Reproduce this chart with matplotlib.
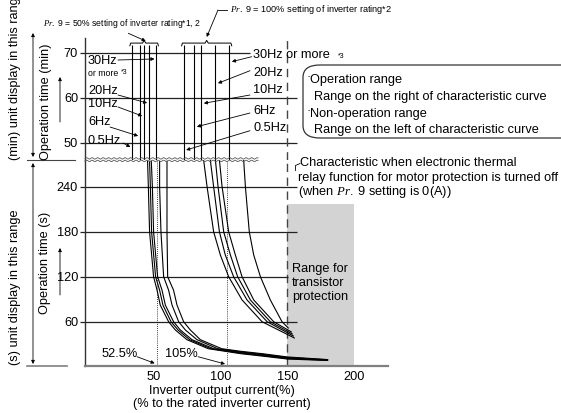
import numpy as np
import matplotlib
matplotlib.use('Agg')
import matplotlib.pyplot as plt
from matplotlib.patches import FancyBboxPatch, FancyArrowPatch
from matplotlib.lines import Line2D

plt.rcParams['font.family'] = ['Liberation Sans', 'DejaVu Sans']
plt.rcParams['mathtext.fontset'] = 'custom'
plt.rcParams['mathtext.it'] = 'Liberation Serif:italic'
plt.rcParams['mathtext.rm'] = 'Liberation Sans'

# ---- data ----
hz_names = ['0.5Hz', '6Hz', '10Hz', '20Hz', '30Hz']
min_ticks = [50, 60, 70]
sec_ticks = [60, 120, 180, 240]
x_ticks = [50, 100, 150, 200]

# minute range: curves are vertical there (current %)
upper_50 = [34.0, 39.8, 42.8, 46.5, 52.0]
upper_100 = [72.6, 80.6, 85.8, 96.3, 106.7]

# second range, Pr.9 = 50 % group
t_50 = [274, 240, 180, 120, 102, 82, 60, 49, 36, 24]
cur_50 = [
    [45.7, 46.3, 47.2, 50.2, 52.8, 55.2, 61.4, 66.4, 75.1, 91],
    [47.2, 47.8, 48.7, 51.7, 54.7, 57.2, 63.2, 68.4, 77.1, 93],
    [48.5, 49.3, 50.2, 53.2, 56.5, 59.0, 65.1, 70.1, 78.9, 95],
    [54.7, 54.7, 55.7, 57.7, 61.4, 64.0, 68.9, 73.9, 82.6, 98],
    [60.2, 60.2, 60.2, 60.7, 65.1, 67.7, 72.6, 77.6, 85.1, 101],
]
tail_cur_50 = [115, 132, 150, 180]
tail_t_50 = [
    [17.4, 14.0, 10.2, 8.3],
    [18.2, 14.8, 10.9, 8.6],
    [19.0, 15.6, 11.6, 8.9],
    [19.8, 16.4, 12.3, 9.2],
    [20.6, 17.2, 13.0, 9.5],
]

# second range, Pr.9 = 100 % group
t_100 = [276, 240, 180, 149, 120, 89, 60]
cur_100 = [
    [87.5, 90.1, 95.0, 100.0, 106.2, 116.2, 131.1],
    [92.5, 95.0, 99.3, 103.7, 109.9, 119.9, 134.9],
    [96.3, 98.3, 102.5, 107.5, 112.9, 122.4, 137.3],
    [99.3, 101.3, 106.2, 111.2, 116.2, 124.9, 139.8],
    [117.4, 118.7, 121.6, 124.9, 129.9, 137.3, 146.0],
]
end_cur_100 = [155.2, 154.5, 153.7, 153.0, 150.7]
end_t_100 = [38.3, 40.9, 43.6, 46.3, 51.6]

ref_lines = [52.5, 105]
trans_range = [150, 200]
trans_top = 217

# ---- figure ----
W, H = 561, 413
fig = plt.figure(figsize=(W / 100, H / 100), dpi=100)
FS = 9.2
LC = '#222222'


def P(px, py):
    return (px / W, 1 - py / H)


def ftext(px, py, s, **kw):
    kw.setdefault('fontsize', FS)
    kw.setdefault('va', 'center')
    fig.text(px / W, 1 - py / H, s, **kw)


def farrow(p0, p1, style='-|>', ms=5):
    fig.add_artist(FancyArrowPatch(P(*p0), P(*p1), transform=fig.transFigure,
                                   arrowstyle=style, mutation_scale=ms, lw=0.6,
                                   color='k', shrinkA=0, shrinkB=0))


def point_to(ax, start, xy):
    ax.annotate('', xy=xy, xycoords='data', xytext=P(*start),
                textcoords='figure fraction', annotation_clip=False,
                arrowprops=dict(arrowstyle='-|>', mutation_scale=5, lw=0.6,
                                color='k', shrinkA=0, shrinkB=0))


xlim = (-0.97, 225.1)
ax_m = fig.add_axes([85 / W, 1 - 160 / H, 303 / W, 122 / H])
ax_s = fig.add_axes([85 / W, 1 - 366 / H, 303 / W, 206 / H])
ax_m.set_ylim(46.22, 73.33)
ax_s.set_ylim(0.93, 275.6)
for ax in (ax_m, ax_s):
    ax.set_xlim(*xlim)
    ax.patch.set_alpha(0)
    for side in ('top', 'right', 'bottom'):
        ax.spines[side].set_visible(False)
    ax.spines['left'].set_color('#333333')
    ax.spines['left'].set_linewidth(1.0)
    ax.tick_params(axis='y', length=3.5, width=0.9, color=LC, pad=1.5,
                   labelsize=FS)
ax_s.spines['bottom'].set_visible(True)
ax_s.spines['bottom'].set_color('#808080')
ax_s.spines['bottom'].set_linewidth(1.6)
ax_m.set_xticks([])
ax_m.set_yticks(min_ticks)
ax_s.set_yticks(sec_ticks)
ax_s.set_xticks(x_ticks)
ax_s.tick_params(axis='x', length=0, pad=3.5, labelsize=FS)

# grid lines
ax_m.hlines(70, xlim[0], 122.4, color=LC, lw=0.9)
ax_m.hlines([60, 50], xlim[0], 157.5, color=LC, lw=0.9)
ax_s.hlines([240, 180, 60], xlim[0], 157.5, color=LC, lw=0.9, zorder=2)
ax_s.hlines(120, xlim[0], 150.7, color=LC, lw=0.9, zorder=2)

# transistor protection range
ax_s.fill_between(trans_range, 0.93, trans_top, color='#d3d3d3', lw=0, zorder=0)
ax_m.vlines(150, 46.22, 72.8, color='#444444', lw=1.0, linestyles=(0, (6, 4)))
ax_s.axvline(150, color='#444444', lw=1.0, ls=(0, (6, 4)), zorder=1)

# reference dotted lines
ax_s.vlines(ref_lines, 0.93, 275.6, color='k', lw=0.6, linestyles=(0, (1, 1.5)))

# minute range vertical lines and braces
for grp in (upper_50, upper_100):
    ax_m.vlines(grp, 46.22, 71.7, color='k', lw=0.8)
    x0, x1 = min(grp) - 1.5, max(grp) + 1.8
    xm = (x0 + x1) / 2
    y, h = 72.2, 0.6
    ax_m.plot([x0, x0 + 0.6, xm - 1.2, xm, xm + 1.2, x1 - 0.6, x1],
              [y - h, y, y, y + h, y, y, y - h], color='k', lw=0.7,
              clip_on=False)

# second range curves
for c, tt in zip(cur_50, tail_t_50):
    ax_s.plot(c + tail_cur_50, t_50 + tt, color='k', lw=0.8)
for c, ce, te in zip(cur_100, end_cur_100, end_t_100):
    ax_s.plot(c + [ce], t_100 + [te], color='k', lw=0.8)

# break marks
xs = np.linspace(85, 258, 300)
for yb in (158.4, 160.9):
    ys = yb + 0.7 * np.sin(2 * np.pi * xs / 5.5)
    fig.add_artist(Line2D(xs / W, 1 - ys / H, color='#555555', lw=0.6))

# y axis labels
ftext(46, 102, 'Operation time (min)', rotation=90, ha='center')
ftext(45, 263, 'Operation time (s)', rotation=90, ha='center')
farrow((60, 122), (60, 77))
farrow((60, 295), (60, 248))
fig.text(15 / W, 1 - 160 / H, '(min) unit display in this range', fontsize=FS,
         rotation=90, ha='center', va='bottom')
fig.text(15 / W, 1 - 365 / H, '(s) unit display in this range', fontsize=FS,
         rotation=90, ha='center', va='bottom')
farrow((33, 33), (33, 157), style='<|-|>')
farrow((33, 163), (33, 364), style='<|-|>')
fig.add_artist(Line2D(np.array([27, 75]) / W, 1 - np.array([160, 160]) / H,
                      color='#444444', lw=0.8))
fig.add_artist(Line2D(np.array([27, 67]) / W, 1 - np.array([366, 366]) / H,
                      color='#808080', lw=1.2))

# x label
ftext(222, 391, 'Inverter output current(%)', ha='center')
ftext(222, 404, '(% to the rated inverter current)', ha='center')

# Hz labels, 50 % group
left_py = [141, 122, 104, 91, 61]
left_start = [(123, 143), (110, 127), (118, 107), (118, 95), (118, 60)]
left_tip = [49.11, 51.56, 56.0, 58.89, 68.67]
for name, py, st, ty, lx in zip(hz_names, left_py, left_start, left_tip, upper_50):
    ftext(88, py, name)
    point_to(ax_m, st, (lx - 1.1, ty))
ftext(88, 73, 'or more', fontsize=6.3)
ftext(121, 73, '*3', fontsize=5)

# Hz labels, 100 % group
right_py = [128, 111, 90, 72.7, 55]
right_start = [(250, 130.7), (250, 113), (250, 95), (250, 70.7), (251.7, 56.7)]
right_tip = [48.44, 53.62, 58.82, 63.27, 68.07]
for name, py, st, ty, lx in zip(hz_names, right_py, right_start, right_tip, upper_100):
    label = name + ' or more' if name == '30Hz' else name
    ftext(253, py, label)
    point_to(ax_m, st, (lx + 1.9, ty))
ftext(338, 57, '*3', fontsize=5)

# Pr.9 notes
ftext(43, 24, r'$\mathit{Pr.\ 9}$ = 50% setting of inverter rating*1, 2', fontsize=6.2)
farrow((128.3, 33.3), (145.7, 41))
ftext(230, 10, r'$\mathit{Pr.\ 9}$ = 100% setting of inverter rating*2', fontsize=6.6)
fig.add_artist(Line2D(np.array([227, 218]) / W, 1 - np.array([10, 10]) / H,
                      color='k', lw=0.6))
farrow((218, 10), (206.7, 37))

# ranges box
fig.add_artist(FancyBboxPatch(P(303, 138), (580 - 303) / W, 73 / H,
                              boxstyle='round,pad=0,rounding_size=0.03',
                              transform=fig.transFigure, fc='none',
                              ec='#333333', lw=0.9))
ftext(306, 77, '·', fontsize=FS)
ftext(310, 80, 'Operation range')
ftext(314, 97, 'Range on the right of characteristic curve')
ftext(306, 111, '·', fontsize=FS)
ftext(310, 114, 'Non-operation range')
ftext(314, 130, 'Range on the left of characteristic curve')

# characteristic when thermal off
ftext(300, 163.3, 'Characteristic when electronic thermal')
ftext(297.5, 178.3, 'relay function for motor protection is turned off')
ftext(297.5, 192.5, r'(when $\mathit{Pr.\ 9}$ setting is 0(A))')
fig.add_artist(Line2D(np.array([300, 295.5, 295.5]) / W,
                      1 - np.array([163.5, 165.5, 170.5]) / H, color='k', lw=0.6))

ftext(292, 283, 'Range for\ntransistor\nprotection', linespacing=1.2)

# 52.5 % / 105 % markers
ftext(120, 354, '52.5%', ha='center')
point_to(ax_s, (137, 356.7), (ref_lines[0] - 1.5, 4.5))
ftext(181, 354, '105%', ha='center')
point_to(ax_s, (198, 356.7), (ref_lines[1] - 1.5, 3.6))

fig.savefig('out.png', dpi=100)
